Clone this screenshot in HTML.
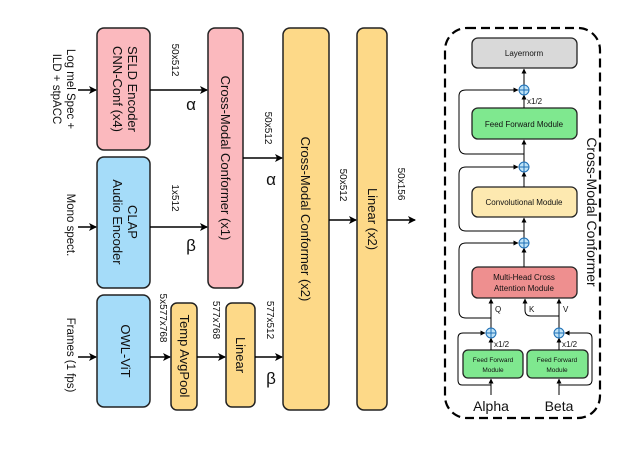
<!DOCTYPE html>
<html><head><meta charset="utf-8"><style>
html,body{margin:0;padding:0;background:#fff;}
svg{display:block;font-family:"Liberation Sans",sans-serif;}
</style></head><body>
<svg width="637" height="451" viewBox="0 0 637 451" xmlns="http://www.w3.org/2000/svg">
<defs>
<marker id="a" markerWidth="8" markerHeight="8" refX="7" refY="4" orient="auto" markerUnits="userSpaceOnUse"><path d="M0,0 L8,4 L0,8 L2,4 Z" fill="#000"/></marker>
<marker id="s" markerWidth="5" markerHeight="5" refX="4.5" refY="2.5" orient="auto" markerUnits="userSpaceOnUse"><path d="M0,0 L5,2.5 L0,5 Z" fill="#000"/></marker>
</defs>
<g stroke="#222" stroke-width="1.5">
<rect x="97" y="28" width="53" height="122" rx="7" fill="#fbb9be"/>
<rect x="97" y="157" width="53" height="131" rx="7" fill="#a5dcf9"/>
<rect x="97" y="295" width="53" height="112" rx="7" fill="#a5dcf9"/>
<rect x="208" y="28" width="35" height="260" rx="7" fill="#fbb9be"/>
<rect x="171" y="303" width="26" height="107" rx="6" fill="#fdd988"/>
<rect x="226" y="303" width="29" height="104" rx="6" fill="#fdd988"/>
<rect x="283" y="28" width="46" height="382" rx="7" fill="#fdd988"/>
<rect x="357" y="28" width="30" height="382" rx="7" fill="#fdd988"/>
</g>
<g stroke="#000" stroke-width="1.5" fill="none">
<line x1="78" y1="90" x2="96" y2="90" marker-end="url(#a)"/>
<line x1="78" y1="227" x2="96" y2="227" marker-end="url(#a)"/>
<line x1="78" y1="357" x2="96" y2="357" marker-end="url(#a)"/>
<line x1="150" y1="90" x2="207" y2="90" marker-end="url(#a)"/>
<line x1="150" y1="227" x2="207" y2="227" marker-end="url(#a)"/>
<line x1="150" y1="357" x2="170" y2="357" marker-end="url(#a)"/>
<line x1="197" y1="357" x2="225" y2="357" marker-end="url(#a)"/>
<line x1="243" y1="158" x2="282" y2="158" marker-end="url(#a)"/>
<line x1="255" y1="357" x2="282" y2="357" marker-end="url(#a)"/>
<line x1="329" y1="220" x2="356" y2="220" marker-end="url(#a)"/>
<line x1="387" y1="220" x2="415" y2="220" marker-end="url(#a)"/>
</g>
<g font-size="13" fill="#111" text-anchor="middle">
<text transform="translate(128,89) rotate(90)">SELD Encoder</text>
<text transform="translate(113,89) rotate(90)">CNN-Conf (x4)</text>
<text transform="translate(128,222) rotate(90)">CLAP</text>
<text transform="translate(113,222) rotate(90)">Audio Encoder</text>
<text transform="translate(121,351) rotate(90)">OWL-ViT</text>
<text transform="translate(221,158) rotate(90)">Cross-Modal Conformer (x1)</text>
<text transform="translate(180,356) rotate(90)">Temp AvgPool</text>
<text transform="translate(236,355) rotate(90)">Linear</text>
<text transform="translate(301,219) rotate(90)">Cross-Modal Conformer (x2)</text>
<text transform="translate(368,219) rotate(90)">Linear (x2)</text>
</g>
<g font-size="11.5" fill="#111" text-anchor="middle">
<text transform="translate(67,89) rotate(90)">Log mel Spec +</text>
<text transform="translate(53,89) rotate(90)">ILD + stpACC</text>
<text transform="translate(67,225) rotate(90)">Mono spect.</text>
<text transform="translate(67,355) rotate(90)">Frames (1 fps)</text>
</g>
<g font-size="10" fill="#111" text-anchor="middle">
<text transform="translate(172,60) rotate(90)">50x512</text>
<text transform="translate(172,198) rotate(90)">1x512</text>
<text transform="translate(160,318) rotate(90)">5x577x768</text>
<text transform="translate(213,320) rotate(90)">577x768</text>
<text transform="translate(267,320) rotate(90)">577x512</text>
<text transform="translate(265,128) rotate(90)">50x512</text>
<text transform="translate(340,185) rotate(90)">50x512</text>
<text transform="translate(398,184) rotate(90)">50x156</text>
</g>
<g font-size="17" fill="#111" text-anchor="middle">
<text x="191" y="110">α</text>
<text x="271" y="185">α</text>
<text x="191" y="251">β</text>
<text x="271" y="384">β</text>
</g>
<!-- right panel -->
<rect x="445" y="28" width="155" height="390" rx="22" fill="none" stroke="#000" stroke-width="2.2" stroke-dasharray="9,5"/>
<g stroke="#222" stroke-width="1.3">
<rect x="472" y="38" width="105" height="30" rx="6" fill="#d9d9d9"/>
<rect x="472" y="108" width="105" height="31" rx="6" fill="#7fe88f"/>
<rect x="472" y="187" width="105" height="30" rx="6" fill="#fde9b0"/>
<rect x="472" y="267" width="105" height="31" rx="6" fill="#ee8f8f"/>
<rect x="463" y="350" width="60" height="28" rx="5" fill="#7fe88f"/>
<rect x="527" y="350" width="61" height="28" rx="5" fill="#7fe88f"/>
</g>
<g stroke="#000" stroke-width="1" fill="none">
<line x1="524" y1="187" x2="524" y2="172" marker-end="url(#s)"/>
<line x1="524" y1="108" x2="524" y2="95" marker-end="url(#s)"/>
<line x1="524" y1="85" x2="524" y2="69" marker-end="url(#s)"/>
<line x1="524" y1="162" x2="524" y2="140" marker-end="url(#s)"/>
<line x1="524" y1="238" x2="524" y2="218" marker-end="url(#s)"/>
<line x1="524" y1="267" x2="524" y2="248" marker-end="url(#s)"/>
<path d="M524,154 H466 Q459,154 459,146 V96 Q459,90 466,90 H518" marker-end="url(#s)"/>
<path d="M524,231 H466 Q459,231 459,224 V174 Q459,167 466,167 H518" marker-end="url(#s)"/>
<path d="M491,318 H466 Q459,318 459,311 V250 Q459,243 466,243 H518" marker-end="url(#s)"/>
<line x1="491" y1="328" x2="491" y2="299" marker-end="url(#s)"/>
<line x1="559" y1="328" x2="559" y2="299" marker-end="url(#s)"/>
<path d="M559,316 H531 Q525,316 525,310 V299" marker-end="url(#s)"/>
<line x1="491" y1="350" x2="491" y2="338" marker-end="url(#s)"/>
<line x1="559" y1="350" x2="559" y2="338" marker-end="url(#s)"/>
<line x1="491" y1="395" x2="491" y2="379" marker-end="url(#s)"/>
<line x1="559" y1="395" x2="559" y2="379" marker-end="url(#s)"/>
<path d="M491,385 H462 Q458,385 458,380 V338 Q458,333 463,333 H485" marker-end="url(#s)"/>
<path d="M559,385 H587 Q592,385 592,380 V338 Q592,333 587,333 H565" marker-end="url(#s)"/>
</g>
<g stroke="#1e6fb5" stroke-width="1" fill="#bfe3f7">
<circle cx="524" cy="90" r="5"/><circle cx="524" cy="167" r="5"/><circle cx="524" cy="243" r="5"/>
<circle cx="491" cy="333" r="5"/><circle cx="559" cy="333" r="5"/>
</g>
<g stroke="#1e6fb5" stroke-width="1">
<path d="M519,90 H529 M524,85 V95 M519,167 H529 M524,162 V172 M519,243 H529 M524,238 V248 M486,333 H496 M491,328 V338 M554,333 H564 M559,328 V338"/>
</g>
<g font-size="8" fill="#111" text-anchor="middle">
<text x="524" y="56">Layernorm</text>
<text x="524" y="127">Feed Forward Module</text>
<text x="524" y="205">Convolutional Module</text>
<text x="524" y="280">Multi-Head Cross</text>
<text x="524" y="291">Attention Module</text>
<text x="493" y="362" font-size="6.5">Feed Forward</text>
<text x="493" y="372" font-size="6.5">Module</text>
<text x="557" y="362" font-size="6.5">Feed Forward</text>
<text x="557" y="372" font-size="6.5">Module</text>
</g>
<g font-size="8" fill="#111">
<text x="527" y="104">x1/2</text>
<text x="494" y="347">x1/2</text>
<text x="562" y="347">x1/2</text>
<text x="495" y="312">Q</text>
<text x="529" y="312">K</text>
<text x="563" y="312">V</text>
</g>
<g font-size="14" fill="#111" text-anchor="middle">
<text x="491" y="411">Alpha</text>
<text x="559" y="411">Beta</text>
</g>
<text transform="translate(587,212) rotate(90)" font-size="14" fill="#111" text-anchor="middle">Cross-Modal Conformer</text>
</svg>
</body></html>
